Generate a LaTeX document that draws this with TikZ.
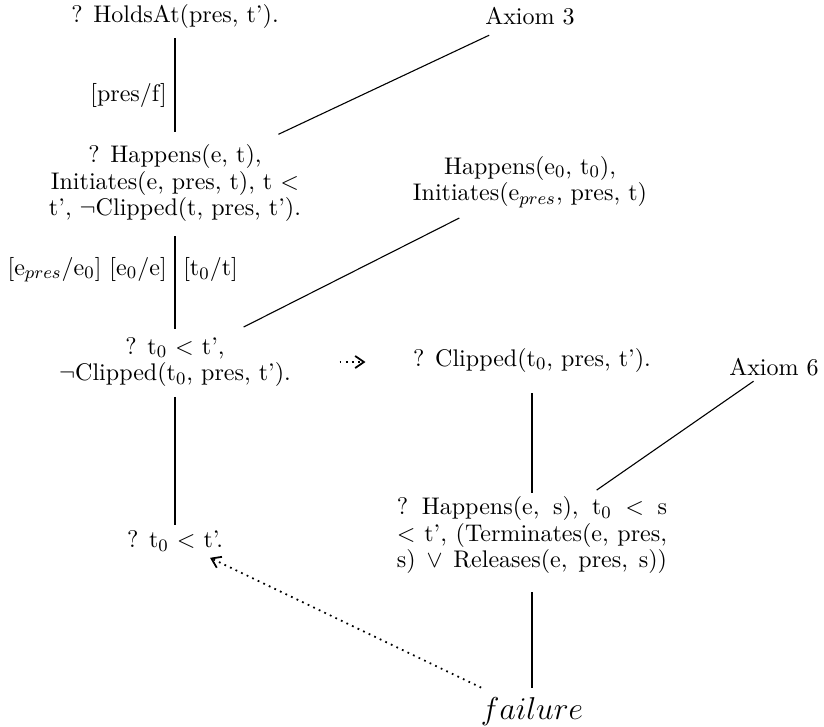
\documentclass[tikz,border=0pt]{standalone}
\usepackage{amsmath,amssymb}
\usepackage{tikz}
\usetikzlibrary{arrows.meta,calc}

\newcommand{\spreadline}[1]{\makebox[123pt][s]{\frenchspacing#1}}

\begin{document}
\begin{tikzpicture}[x=0.016cm, y=-0.016cm,
    font=\fontsize{10.95}{12}\selectfont,
    goal/.style={inner sep=4.5pt, align=center},
    proof/.style={line width=0.9pt},
    link/.style={line width=0.5pt},
    hint/.style={dotted, line width=0.8pt, -{Straight Barb[length=4pt,width=5.5pt]}}]
    \useasboundingbox (0,0) rectangle (824,726);

    % goals on the left branch
    \node[goal] (hold) at (175,16) {? HoldsAt(pres, t').};
    \node[goal] (happ) at (175,183)
        {? Happens(e, t),\\ Initiates(e, pres, t), t $<$\\ t', $\neg$Clipped(t, pres, t').};
    \node[goal] (clip) at (175,362)
        {? t$_0$ $<$ t',\\ $\neg$Clipped(t$_0$, pres, t').};
    \node[goal] (less) at (175,541) {? t$_0$ $<$ t'.};

    % side facts
    \node[goal] (ax3) at (530,16) {Axiom 3};
    \node[goal] (init) at (530,182)
        {Happens(e$_0$, t$_0$),\\ Initiates(e$_{pres}$, pres, t)};
    \node[goal] (ax6) at (774,367) {Axiom 6};

    % negated sub-proof
    \node[goal] (clp) at (532,360) {? Clipped(t$_0$, pres, t').};
    \node[goal] (term) at (532,535)
        {\spreadline{? Happens(e, s), t$_0$ $<$ s}\\
         \spreadline{$<$ t', (Terminates(e, pres,}\\
         \spreadline{s) $\vee$ Releases(e, pres, s))}};
    \node[goal, font=\Large] (fail) at (532,712) {$failure$};

    % resolution steps
    \draw[proof, shorten >=1pt] (hold) -- (happ) node[pos=0.6, left] {[pres/f]};
    \draw[proof, shorten <=2pt, shorten >=-1pt] (happ) -- (clip)
        node[pos=0.4, left] {[e$_{pres}$/e$_0$] [e$_0$/e]}
        node[pos=0.4, right] {[t$_0$/t]};
    \draw[proof, shorten >=-2pt] (clip) -- (less);
    \draw[proof, shorten <=5pt, shorten >=-3pt] (clp) -- (term);
    \draw[proof, shorten <=4pt] (term) -- (fail);

    \draw[link] (ax3) -- (happ);
    \draw[link] (init.207) -- (clip.27);
    \draw[link, shorten <=-4pt, shorten >=-3pt] (ax6) -- (term);

    % negation as failure
    \draw[hint, shorten <=17.5pt, shorten >=17pt] (clip) -- (clip -| clp.west);
    \draw[hint, shorten >=-4pt] (fail) -- (less);
\end{tikzpicture}
\end{document}
